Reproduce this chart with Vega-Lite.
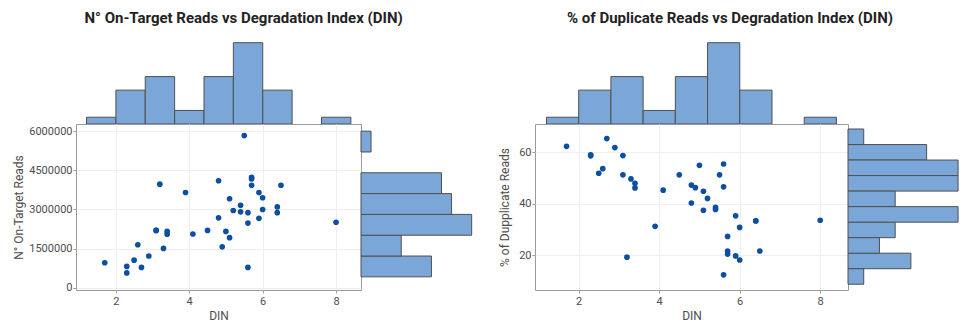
{
  "$schema": "https://vega.github.io/schema/vega-lite/v6.json",
  "background": "white",
  "padding": {"left": 12, "top": 11, "right": 0, "bottom": 0},
  "datasets": {
    "samples": [
      {"DIN": 1.7, "OnTarget": 960000, "Dup": 62.4},
      {"DIN": 2.3, "OnTarget": 820000, "Dup": 59.1},
      {"DIN": 2.3, "OnTarget": 570000, "Dup": 58.7},
      {"DIN": 2.5, "OnTarget": 1060000, "Dup": 51.9},
      {"DIN": 2.6, "OnTarget": 1650000, "Dup": 53.7},
      {"DIN": 2.7, "OnTarget": 780000, "Dup": 65.4},
      {"DIN": 2.9, "OnTarget": 1220000, "Dup": 61.9},
      {"DIN": 3.1, "OnTarget": 2200000, "Dup": 58.8},
      {"DIN": 3.1, "OnTarget": 2200000, "Dup": 51.3},
      {"DIN": 3.2, "OnTarget": 3970000, "Dup": 19.2},
      {"DIN": 3.3, "OnTarget": 1510000, "Dup": 49.7},
      {"DIN": 3.4, "OnTarget": 2160000, "Dup": 48.0},
      {"DIN": 3.4, "OnTarget": 2050000, "Dup": 46.2},
      {"DIN": 3.9, "OnTarget": 3650000, "Dup": 31.2},
      {"DIN": 4.1, "OnTarget": 2060000, "Dup": 45.3},
      {"DIN": 4.5, "OnTarget": 2200000, "Dup": 51.3},
      {"DIN": 4.8, "OnTarget": 4100000, "Dup": 47.3},
      {"DIN": 4.8, "OnTarget": 2680000, "Dup": 40.3},
      {"DIN": 4.9, "OnTarget": 1570000, "Dup": 46.3},
      {"DIN": 5.0, "OnTarget": 2160000, "Dup": 55.0},
      {"DIN": 5.1, "OnTarget": 3410000, "Dup": 44.9},
      {"DIN": 5.1, "OnTarget": 1920000, "Dup": 37.5},
      {"DIN": 5.2, "OnTarget": 2960000, "Dup": 42.1},
      {"DIN": 5.4, "OnTarget": 3160000, "Dup": 38.6},
      {"DIN": 5.4, "OnTarget": 2910000, "Dup": 37.8},
      {"DIN": 5.5, "OnTarget": 5830000, "Dup": 51.3},
      {"DIN": 5.6, "OnTarget": 2880000, "Dup": 55.5},
      {"DIN": 5.6, "OnTarget": 2480000, "Dup": 46.6},
      {"DIN": 5.6, "OnTarget": 780000, "Dup": 12.3},
      {"DIN": 5.7, "OnTarget": 4230000, "Dup": 27.3},
      {"DIN": 5.7, "OnTarget": 4170000, "Dup": 21.6},
      {"DIN": 5.7, "OnTarget": 3930000, "Dup": 20.4},
      {"DIN": 5.9, "OnTarget": 3650000, "Dup": 35.3},
      {"DIN": 5.9, "OnTarget": 2660000, "Dup": 19.7},
      {"DIN": 6.0, "OnTarget": 3450000, "Dup": 18.1},
      {"DIN": 6.0, "OnTarget": 3000000, "Dup": 30.8},
      {"DIN": 6.4, "OnTarget": 3100000, "Dup": 33.4},
      {"DIN": 6.4, "OnTarget": 2880000, "Dup": 33.3},
      {"DIN": 6.5, "OnTarget": 3930000, "Dup": 21.6},
      {"DIN": 8.0, "OnTarget": 2510000, "Dup": 33.6}
    ]
  },
  "config": {
    "font": "Roboto",
    "view": {"stroke": null},
    "axis": {
      "labelFont": "Roboto",
      "titleFont": "Roboto",
      "labelFontSize": 11,
      "titleFontSize": 12,
      "labelColor": "#4d4d4d",
      "titleColor": "#4d4d4d",
      "titleFontWeight": "normal",
      "tickColor": "#9a9a9a",
      "tickSize": 3,
      "labelPadding": 2,
      "domain": false,
      "gridColor": "#eeeeee",
      "gridWidth": 1
    },
    "title": {
      "font": "Roboto",
      "fontSize": 15,
      "fontWeight": "bold",
      "color": "#222222",
      "anchor": "middle",
      "offset": 14
    }
  },
  "spacing": 23,
  "hconcat": [
    {
      "title": {"text": "N° On-Target Reads vs Degradation Index (DIN)"},
      "bounds": "flush",
      "spacing": 0,
      "vconcat": [
        {
          "data": {"name": "samples"},
          "width": 285,
          "height": 84,
          "mark": {"type": "bar", "fill": "#7aa6d8", "stroke": "#4f4f4f", "strokeWidth": 1, "binSpacing": 0},
          "encoding": {
            "x": {"field": "DIN", "type": "quantitative", "bin": {"extent": [1.19, 8.39], "step": 0.8, "nice": false}, "scale": {"domain": [0.917, 8.68], "nice": false, "zero": false}, "axis": null},
            "y": {"aggregate": "count", "type": "quantitative", "scale": {"domain": [0, 12.4], "nice": false}, "axis": null}
          }
        },
        {
          "bounds": "flush",
          "spacing": 0,
          "hconcat": [
            {
              "data": {"name": "samples"},
              "width": 285,
              "height": 166,
              "view": {"stroke": "#9a9a9a", "strokeWidth": 1},
              "mark": {"type": "point", "filled": true, "size": 32, "opacity": 1, "color": "#0c4fa0"},
              "encoding": {
                "x": {"field": "DIN", "type": "quantitative", "title": "DIN", "scale": {"domain": [0.917, 8.68], "nice": false, "zero": false}, "axis": {"values": [2, 4, 6, 8], "titlePadding": 4}},
                "y": {"field": "OnTarget", "type": "quantitative", "title": "N° On-Target Reads", "scale": {"domain": [-84000, 6275000], "nice": false, "zero": false}, "axis": {"values": [0, 1500000, 3000000, 4500000, 6000000], "format": "d", "labelPadding": 1, "titlePadding": 3}}
              }
            },
            {
              "data": {"name": "samples"},
              "width": 114,
              "height": 166,
              "mark": {"type": "bar", "fill": "#7aa6d8", "stroke": "#4f4f4f", "strokeWidth": 1, "binSpacing": 0},
              "encoding": {
                "y": {"field": "OnTarget", "type": "quantitative", "bin": {"extent": [440000, 6019000], "step": 797000, "nice": false}, "scale": {"domain": [-84000, 6275000], "nice": false, "zero": false}, "axis": null},
                "x": {"aggregate": "count", "type": "quantitative", "scale": {"domain": [0, 11.33], "nice": false}, "axis": null}
              }
            }
          ]
        }
      ]
    },
    {
      "title": {"text": "% of Duplicate Reads vs Degradation Index (DIN)"},
      "bounds": "flush",
      "spacing": 0,
      "vconcat": [
        {
          "data": {"name": "samples"},
          "width": 313,
          "height": 84,
          "mark": {"type": "bar", "fill": "#7aa6d8", "stroke": "#4f4f4f", "strokeWidth": 1, "binSpacing": 0},
          "encoding": {
            "x": {"field": "DIN", "type": "quantitative", "bin": {"extent": [1.19, 8.39], "step": 0.8, "nice": false}, "scale": {"domain": [0.917, 8.69], "nice": false, "zero": false}, "axis": null},
            "y": {"aggregate": "count", "type": "quantitative", "scale": {"domain": [0, 12.4], "nice": false}, "axis": null}
          }
        },
        {
          "bounds": "flush",
          "spacing": 0,
          "hconcat": [
            {
              "data": {"name": "samples"},
              "width": 313,
              "height": 166,
              "view": {"stroke": "#9a9a9a", "strokeWidth": 1},
              "mark": {"type": "point", "filled": true, "size": 32, "opacity": 1, "color": "#0c4fa0"},
              "encoding": {
                "x": {"field": "DIN", "type": "quantitative", "title": "DIN", "scale": {"domain": [0.917, 8.69], "nice": false, "zero": false}, "axis": {"values": [2, 4, 6, 8], "titlePadding": 4}},
                "y": {"field": "Dup", "type": "quantitative", "title": "% of Dupplicate Reads", "scale": {"domain": [6.4, 71.1], "nice": false, "zero": false}, "axis": {"values": [20, 40, 60], "labelPadding": 1, "titlePadding": 7}}
              }
            },
            {
              "data": {"name": "samples"},
              "width": 114,
              "height": 166,
              "mark": {"type": "bar", "fill": "#7aa6d8", "stroke": "#4f4f4f", "strokeWidth": 1, "binSpacing": 0},
              "encoding": {
                "y": {"field": "Dup", "type": "quantitative", "bin": {"extent": [8.84, 69.34], "step": 6.05, "nice": false}, "scale": {"domain": [6.4, 71.1], "nice": false, "zero": false}, "axis": null},
                "x": {"aggregate": "count", "type": "quantitative", "scale": {"domain": [0, 7.25], "nice": false}, "axis": null}
              }
            }
          ]
        }
      ]
    }
  ]
}
